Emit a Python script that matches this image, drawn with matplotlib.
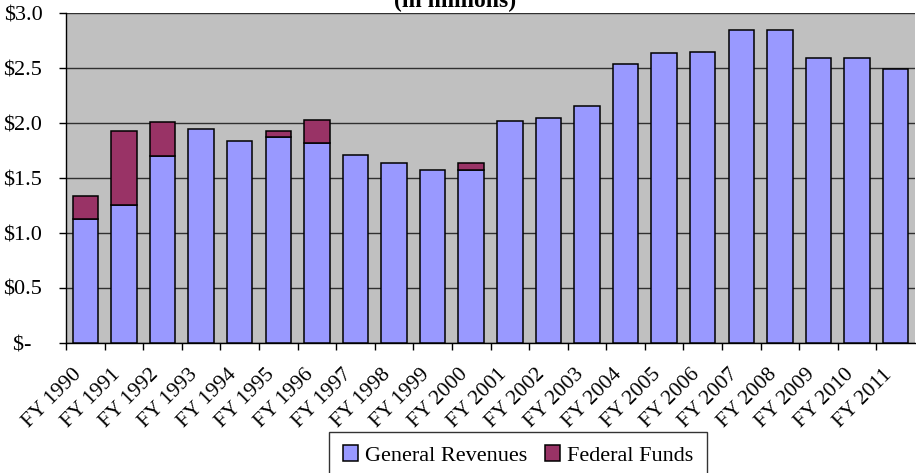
import matplotlib
matplotlib.use("Agg")
import matplotlib.pyplot as plt
import matplotlib.transforms as mtransforms
import numpy as np

years = ["FY 1990", "FY 1991", "FY 1992", "FY 1993", "FY 1994", "FY 1995", "FY 1996",
         "FY 1997", "FY 1998", "FY 1999", "FY 2000", "FY 2001", "FY 2002", "FY 2003",
         "FY 2004", "FY 2005", "FY 2006", "FY 2007", "FY 2008", "FY 2009", "FY 2010",
         "FY 2011"]
general = [1.13, 1.255, 1.70, 1.945, 1.84, 1.87, 1.815, 1.71, 1.64, 1.57, 1.57, 2.015,
           2.05, 2.155, 2.54, 2.635, 2.65, 2.845, 2.845, 2.595, 2.595, 2.49]
federal = [0.21, 0.675, 0.31, 0, 0, 0.06, 0.215, 0, 0, 0, 0.07, 0, 0, 0, 0, 0, 0, 0, 0,
           0, 0, 0]
yticks = [0, 0.5, 1.0, 1.5, 2.0, 2.5, 3.0]
# accounting-style zero label sits a bit left of the others
ytick_labels = ["$-\u2002", "$0.5", "$1.0", "$1.5", "$2.0", "$2.5", "$3.0"]

plt.rcParams.update({"font.family": ["Liberation Serif", "DejaVu Serif"],
                     "font.size": 15})

fig = plt.figure(figsize=(9.16, 4.73), dpi=100)
ax = fig.add_axes([66 / 916, 1 - 343 / 473, 849 / 916, 330 / 473])
ax.set_facecolor("#C0C0C0")

x = np.arange(len(years))
ax.bar(x, general, width=0.66, color="#9999FF", edgecolor="black", linewidth=1.1,
       label="General Revenues", zorder=3)
fed_mask = np.array(federal) > 0
ax.bar(x[fed_mask], np.array(federal)[fed_mask], width=0.66,
       bottom=np.array(general)[fed_mask], color="#993366", edgecolor="black",
       linewidth=1.1, label="Federal Funds", zorder=3)

ax.set_xlim(-0.5, len(years) - 0.5)
ax.set_ylim(0, 3.0)
ax.set_yticks(yticks)
ax.set_yticklabels(ytick_labels, fontsize=16)
ax.yaxis.grid(True, color="#303030", linewidth=1.0, zorder=1)
ax.set_axisbelow(True)

for s in ["top", "right"]:
    ax.spines[s].set_visible(False)
ax.spines["left"].set_linewidth(1.0)
ax.spines["bottom"].set_linewidth(1.0)

ax.tick_params(axis="y", length=5, width=1.0, pad=12)
ax.set_xticks(x)
ax.set_xticks(np.arange(len(years)) - 0.5, minor=True)
ax.tick_params(axis="x", which="major", length=0, pad=16)
ax.tick_params(axis="x", which="minor", length=5, width=1.0)
ax.set_xticklabels(years, rotation=45, ha="right", rotation_mode="anchor", fontsize=15.5)
offset = mtransforms.ScaledTranslation(-13 / 100, 0, fig.dpi_scale_trans)
for lbl in ax.get_xticklabels():
    lbl.set_transform(lbl.get_transform() + offset)

fig.text(455 / 916, 1 - 7 / 473, "(in millions)", ha="center", va="baseline",
         fontsize=17, fontweight="bold")

leg = fig.legend(loc="upper center", bbox_to_anchor=(518 / 916, 1 - 432 / 473),
                 ncol=2, frameon=True, fancybox=False, edgecolor="black",
                 fontsize=16, handlelength=0.7, handleheight=0.7,
                 handletextpad=0.3, columnspacing=0.8, borderpad=0.6,
                 borderaxespad=0)
leg.get_frame().set_linewidth(1.0)

fig.savefig("out.png", dpi=100)
